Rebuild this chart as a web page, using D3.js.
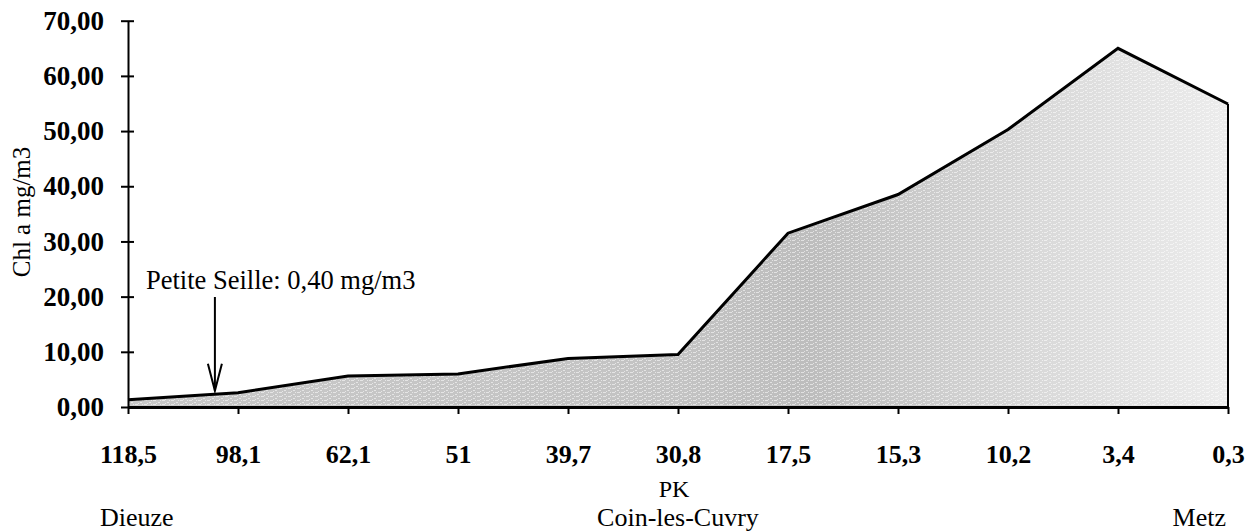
<!DOCTYPE html>
<html>
<head>
<meta charset="utf-8">
<script src="https://cdn.jsdelivr.net/npm/d3@7"></script>
<style>
  html, body { margin: 0; padding: 0; background: #fff; }
  svg { display: block; }
  text { font-family: "Liberation Serif", "Times New Roman", serif; fill: #000; }
</style>
</head>
<body>
<script>
// ---- data ----
const categories = ["118,5", "98,1", "62,1", "51", "39,7", "30,8", "17,5", "15,3", "10,2", "3,4", "0,3"];
const chlValues = [1.3, 2.6, 5.6, 6.0, 8.8, 9.5, 31.5, 38.5, 50.3, 65.0, 54.9];
const yTicks = [0, 10, 20, 30, 40, 50, 60, 70];
const placeNames = [
  { name: "Dieuze", cat: "118,5", anchor: "start" },
  { name: "Coin-les-Cuvry", cat: "30,8", anchor: "middle" },
  { name: "Metz", cat: "0,3", anchor: "end" }
];
const annotation = { text: "Petite Seille: 0,40 mg/m3", value: 2.6, between: ["118,5", "98,1"] };

const W = 1256, H = 531;
const margin = { left: 128, right: 28, top: 20.7, bottom: 124 };

const svg = d3.select("body").append("svg").attr("width", W).attr("height", H);

const x = d3.scalePoint().domain(categories).range([margin.left, W - margin.right]);
const y = d3.scaleLinear().domain([0, 70]).range([407, margin.top]);

const defs = svg.append("defs");
const grad = defs.append("linearGradient").attr("id", "fillGrad")
  .attr("x1", "0%").attr("x2", "100%").attr("y1", "0%").attr("y2", "0%");
grad.append("stop").attr("offset", "0%").attr("stop-color", "#c8c8c8");
grad.append("stop").attr("offset", "50%").attr("stop-color", "#c3c3c3");
grad.append("stop").attr("offset", "62%").attr("stop-color", "#bdbdbd");
grad.append("stop").attr("offset", "82%").attr("stop-color", "#d8d8d8");
grad.append("stop").attr("offset", "100%").attr("stop-color", "#ececec");

// stipple texture (white specks over the gradient)
const pat = defs.append("pattern").attr("id", "speck").attr("patternUnits", "userSpaceOnUse")
  .attr("width", 9).attr("height", 4);
[[0, 0, 3, 1], [5, 2, 2, 1], [3, 3, 1, 1], [7, 0, 1, 1]].forEach(r => {
  pat.append("rect").attr("x", r[0]).attr("y", r[1]).attr("width", r[2]).attr("height", r[3])
    .attr("fill", "#fff").attr("opacity", 0.55);
});

const data = categories.map((c, i) => ({ c, v: chlValues[i] }));

// area
const area = d3.area().x(d => x(d.c)).y0(y(0)).y1(d => y(d.v));
svg.append("path").datum(data).attr("d", area).attr("fill", "url(#fillGrad)");
svg.append("path").datum(data).attr("d", area).attr("fill", "url(#speck)");

// outline line + right edge
const line = d3.line().x(d => x(d.c)).y(d => y(d.v));
svg.append("path").datum(data).attr("d", line)
  .attr("fill", "none").attr("stroke", "#000").attr("stroke-width", 3).attr("stroke-linejoin", "miter");
const last = data[data.length - 1];
svg.append("line")
  .attr("x1", x(last.c)).attr("x2", x(last.c))
  .attr("y1", y(last.v)).attr("y2", y(0))
  .attr("stroke", "#000").attr("stroke-width", 2);

// y axis
const yAxis = d3.axisLeft(y).tickValues(yTicks)
  .tickFormat(d => d3.format(".2f")(d).replace(".", ","))
  .tickSize(7).tickSizeOuter(0).tickPadding(17);
const gy = svg.append("g").attr("transform", `translate(${margin.left},0)`).call(yAxis);
gy.select(".domain").attr("stroke", "#000").attr("stroke-width", 2);
gy.selectAll(".tick line").attr("stroke", "#000").attr("stroke-width", 2).attr("x2", 6).attr("x1", -7);
gy.selectAll(".tick text").attr("font-size", 27).attr("font-weight", "bold")
  .attr("font-family", "Liberation Serif, Times New Roman, serif");

// x axis
const xAxis = d3.axisBottom(x).tickSize(7).tickSizeOuter(0).tickPadding(0);
const gx = svg.append("g").attr("transform", `translate(0,${y(0)})`).call(xAxis);
gx.select(".domain").attr("stroke", "#000").attr("stroke-width", 3);
gx.selectAll(".tick line").attr("stroke", "#000").attr("stroke-width", 2);
gx.selectAll(".tick text").attr("font-size", 26).attr("font-weight", "bold")
  .attr("y", 56).attr("dy", 0)
  .attr("font-family", "Liberation Serif, Times New Roman, serif");

// y axis title
svg.append("text")
  .attr("transform", `translate(30,212) rotate(-90)`)
  .attr("text-anchor", "middle")
  .attr("font-size", 25)
  .text("Chl a mg/m3");

// x axis title
svg.append("text")
  .attr("x", x("30,8") - 4).attr("y", 497)
  .attr("text-anchor", "middle").attr("font-size", 24)
  .text("PK");

// place names
placeNames.forEach(p => {
  let px = x(p.cat);
  if (p.anchor === "start") px = x(p.cat) - 28;
  if (p.anchor === "end") px = x(p.cat) - 2;
  svg.append("text").attr("x", px).attr("y", 526)
    .attr("text-anchor", p.anchor).attr("font-size", 26).text(p.name);
});

// annotation arrow + text
const ax = x(annotation.between[0]) + (x(annotation.between[1]) - x(annotation.between[0])) * 0.79;
const tipY = y(annotation.value) - 2;
svg.append("text").attr("x", 146).attr("y", 289).attr("font-size", 26.5).text(annotation.text);
svg.append("line").attr("x1", ax).attr("x2", ax).attr("y1", 297).attr("y2", tipY)
  .attr("stroke", "#000").attr("stroke-width", 2);
svg.append("path")
  .attr("d", `M${ax - 7},${tipY - 27} L${ax},${tipY} L${ax + 7},${tipY - 27}`)
  .attr("fill", "none").attr("stroke", "#000").attr("stroke-width", 2);
</script>
</body>
</html>
